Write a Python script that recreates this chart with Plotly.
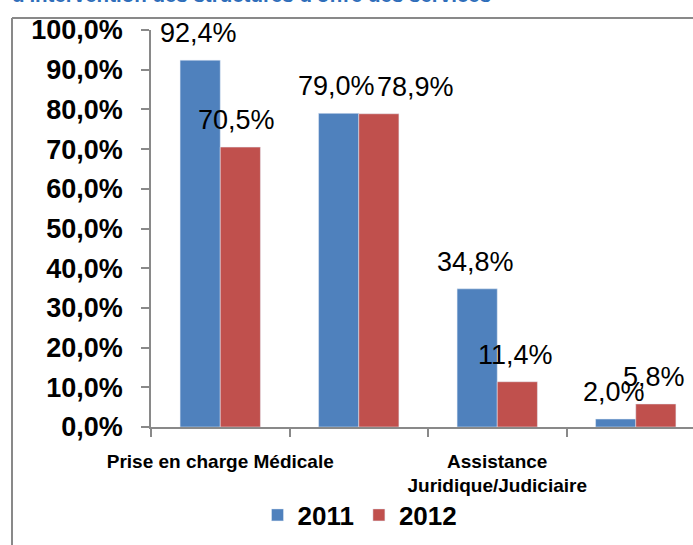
import plotly.graph_objects as go

# ---- data ----
categories = ["Prise en charge Médicale", "", "Assistance<br>Juridique/Judiciaire", ""]
years = ["2011", "2012"]
values_2011 = [92.4, 79.0, 34.8, 2.0]
values_2012 = [70.5, 78.9, 11.4, 5.8]
y_ticks = [0, 10, 20, 30, 40, 50, 60, 70, 80, 90, 100]
y_tick_labels = [f"{v:.1f}%".replace(".", ",") for v in y_ticks]
title_text = "d'intervention des structures d'offre des services"

# ---- style ----
BLUE = "#4F81BD"
RED = "#C0504D"
AXIS = "#898989"
FONT = "Liberation Sans, Arial, sans-serif"
W, H = 693, 545
L, R, T, B = 151, 0, 30, 118
BARGAP = 0.42
half = (1 - BARGAP) / 4  # half bar width in category units

# label tweaks (pixel shifts) for a few labels that were moved in the original
label_dx = {("2012", 1): 37, ("2012", 0): -4}

plot_w = W - L - R
plot_h = H - T - B
cat_px = 138.5
x_max = -0.5 + plot_w / cat_px


def px_x(p):
    return (p - L) / plot_w


def px_y(p):
    return (H - B - p) / plot_h


idx = list(range(len(categories)))
fig = go.Figure()
fig.add_trace(go.Bar(x=idx, y=values_2011, name=years[0], marker_color=BLUE))
fig.add_trace(go.Bar(x=idx, y=values_2012, name=years[1], marker_color=RED))

annotations = []
for s, (yr, vals) in enumerate(zip(years, [values_2011, values_2012])):
    off = -half if s == 0 else half
    for i, v in enumerate(vals):
        annotations.append(dict(
            x=i + off, y=v, xref="x", yref="y",
            text=f"{v:.1f}%".replace(".", ","),
            showarrow=False, yanchor="middle", xanchor="center",
            yshift=27, xshift=label_dx.get((yr, i), -2),
            font=dict(family=FONT, size=27, color="black"),
        ))

annotations.append(dict(
    x=px_x(10), y=px_y(8), xref="paper", yref="paper",
    text=f"<b>{title_text}</b>", showarrow=False,
    xanchor="left", yanchor="bottom",
    font=dict(family=FONT, size=20.5, color="#2F6EBA"),
))

shapes = [
    dict(type="line", xref="paper", yref="paper",
         x0=px_x(12), x1=px_x(W + 5), y0=px_y(18), y1=px_y(18),
         line=dict(color=AXIS, width=2)),
    dict(type="line", xref="paper", yref="paper",
         x0=px_x(12), x1=px_x(12), y0=px_y(18), y1=px_y(H + 5),
         line=dict(color=AXIS, width=2)),
]

fig.update_layout(
    width=W, height=H,
    margin=dict(l=L, r=R, t=T, b=B, pad=0),
    paper_bgcolor="white", plot_bgcolor="white",
    barmode="group", bargap=BARGAP, bargroupgap=0,
    font=dict(family=FONT, color="black"),
    showlegend=True,
    legend=dict(orientation="h", x=px_x(360), y=px_y(515),
                xanchor="center", yanchor="middle",
                bgcolor="rgba(0,0,0,0)",
                font=dict(family=FONT, size=26, color="black", weight="bold"),
                traceorder="normal"),
    annotations=annotations,
    shapes=shapes,
)

fig.update_xaxes(
    range=[-0.5, x_max], tickmode="array", tickvals=idx, ticktext=categories,
    ticks="", showline=True, linecolor=AXIS, linewidth=1.5,
    showgrid=False, zeroline=False,
    tickfont=dict(family=FONT, size=19, color="black", weight="bold"),
    ticklabelstandoff=16,
    minor=dict(ticks="outside", tick0=0.5, dtick=1, ticklen=8,
               tickcolor=AXIS, tickwidth=1.5, showgrid=False),
)
fig.update_yaxes(
    range=[0, 100], tickmode="array", tickvals=y_ticks, ticktext=y_tick_labels,
    ticks="outside", ticklen=8, tickcolor=AXIS, tickwidth=1.5,
    showline=True, linecolor=AXIS, linewidth=1.5,
    showgrid=False, zeroline=False,
    tickfont=dict(family=FONT, size=27, color="black", weight="bold"),
    ticklabelstandoff=13,
)

fig.write_html("out.html", config={"displayModeBar": False},
               post_script="document.body.style.margin='0';")
